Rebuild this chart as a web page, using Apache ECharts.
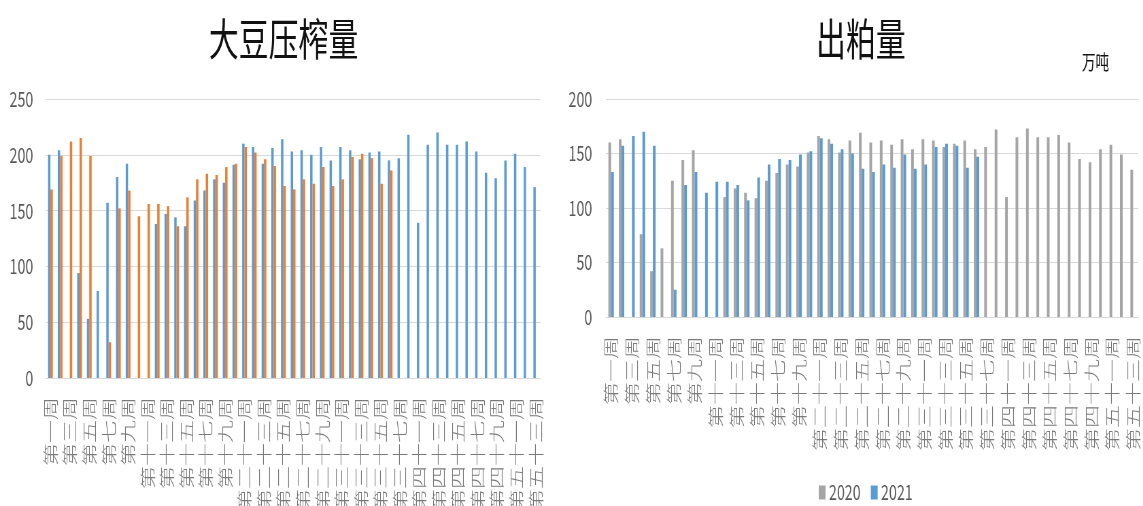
<!DOCTYPE html>
<html>
<head>
<meta charset="utf-8">
<script src="https://cdn.jsdelivr.net/npm/echarts@6/dist/echarts.min.js"></script>
<style>
  html, body { margin: 0; padding: 0; overflow: hidden; background: #fff; }
  /* 原图横向被压扁，这里按宽画再横向缩放 */
  #chart { width: 1681px; height: 506px; transform: scaleX(0.68); transform-origin: 0 0; }
</style>
</head>
<body>
<div id="chart"></div>
<script>
// 周次（缺第三十九、四十周）
var weeks = ['第一周','第二周','第三周','第四周','第五周','第六周','第七周','第八周','第九周','第十周',
  '第十一周','第十二周','第十三周','第十四周','第十五周','第十六周','第十七周','第十八周','第十九周','第二十周',
  '第二十一周','第二十二周','第二十三周','第二十四周','第二十五周','第二十六周','第二十七周','第二十八周','第二十九周','第三十周',
  '第三十一周','第三十二周','第三十三周','第三十四周','第三十五周','第三十六周','第三十七周','第三十八周',
  '第四十一周','第四十二周','第四十三周','第四十四周','第四十五周','第四十六周','第四十七周','第四十八周','第四十九周','第五十周',
  '第五十一周','第五十二周','第五十三周'];

// 大豆压榨量
var crush2020 = [200, 204, null, 94, 53, 78, 157, 180, 192, null, null, 138, 147, 144, 136, 159, 168, 178, 175, 191,
  210, 207, 192, 206, 214, 203, 204, 200, 207, 195, 207, 204, 196, 202, 203, 195, 197, 218, 139, 209,
  220, 209, 209, 212, 203, 184, 179, 195, 201, 189, 171];
var crush2021 = [169, 199, 212, 215, 199, null, 32, 152, 168, 145, 156, 156, 154, 136, 162, 178, 183, 182, 189, 192,
  207, 202, 196, 190, 172, 169, 178, 174, 189, 172, 178, 198, 201, 197, 174, 186,
  null, null, null, null, null, null, null, null, null, null, null, null, null, null, null];

// 出粕量
var meal2020 = [160, 163, null, 76, 42, 63, 125, 144, 153, null, null, 110, 118, 114, 109, 125, 132, 140, 138, 151,
  166, 163, 151, 162, 169, 160, 162, 158, 163, 154, 163, 162, 156, 159, 162, 154, 156, 172, 110, 165,
  173, 165, 165, 167, 160, 145, 142, 154, 158, 149, 135];
var meal2021 = [133, 157, 166, 170, 157, null, 25, 121, 133, 114, 124, 124, 121, 107, 128, 140, 145, 144, 149, 152,
  164, 159, 154, 150, 136, 133, 140, 137, 149, 136, 140, 156, 159, 157, 137, 147,
  null, null, null, null, null, null, null, null, null, null, null, null, null, null, null];

var font = '"Noto Sans CJK SC", "Noto Sans", sans-serif';
var labelColor = '#595959';
var gridColor = '#D9D9D9';

function xAxisFor(idx) {
  return {
    type: 'category',
    gridIndex: idx,
    data: weeks,
    axisTick: { show: false },
    axisLine: { lineStyle: { color: gridColor, width: 1 } },
    axisLabel: {
      interval: 1,
      rotate: 90,
      margin: 19,
      color: '#7a7a7a',
      fontSize: 23,
      fontWeight: 300,
      fontFamily: font
    }
  };
}

function yAxisFor(idx, max, margin) {
  return {
    type: 'value',
    gridIndex: idx,
    min: 0,
    max: max,
    interval: 50,
    axisLine: { show: false },
    axisTick: { show: false },
    axisLabel: { color: labelColor, fontSize: 21, fontFamily: font, margin: margin },
    splitLine: { lineStyle: { color: gridColor, width: 1 } }
  };
}

var myChart = echarts.init(document.getElementById('chart'));
myChart.setOption({
  animation: false,
  textStyle: { fontFamily: font },
  title: [
    { text: '大豆压榨量', left: 412, top: 12, textAlign: 'center',
      textStyle: { fontSize: 44, fontWeight: 'normal', color: '#111', fontFamily: font } },
    { text: '出粕量', left: 1261, top: 12, textAlign: 'center',
      textStyle: { fontSize: 44, fontWeight: 'normal', color: '#111', fontFamily: font } },
    { text: '万吨', left: 1606, top: 47, textAlign: 'center',
      textStyle: { fontSize: 20, fontWeight: 'normal', color: '#111', fontFamily: font } }
  ],
  legend: {
    data: ['2020', '2021'],
    left: 1199,
    top: 477,
    icon: 'rect',
    itemWidth: 10,
    itemHeight: 14,
    itemGap: 15,
    selectedMode: false,
    textStyle: { color: labelColor, fontSize: 21, fontFamily: font }
  },
  grid: [
    { left: 67, right: 886, top: 99, bottom: 128, outerBoundsMode: 'none' },
    { left: 891, right: 7, top: 99, bottom: 189, outerBoundsMode: 'none' }
  ],
  xAxis: [xAxisFor(0), xAxisFor(1)],
  yAxis: [yAxisFor(0, 250, 18), yAxisFor(1, 200, 20)],
  series: [
    { name: '压榨2020', type: 'bar', xAxisIndex: 0, yAxisIndex: 0, data: crush2020,
      barWidth: 3.5, barGap: '0%', itemStyle: { color: '#5B9BD5' } },
    { name: '压榨2021', type: 'bar', xAxisIndex: 0, yAxisIndex: 0, data: crush2021,
      barWidth: 3.5, barGap: '0%', itemStyle: { color: '#ED7D31' } },
    { name: '2020', type: 'bar', xAxisIndex: 1, yAxisIndex: 1, data: meal2020,
      barWidth: 4, barGap: '0%', itemStyle: { color: '#A5A5A5' } },
    { name: '2021', type: 'bar', xAxisIndex: 1, yAxisIndex: 1, data: meal2021,
      barWidth: 4, barGap: '0%', itemStyle: { color: '#5B9BD5' } }
  ]
});
</script>
</body>
</html>
